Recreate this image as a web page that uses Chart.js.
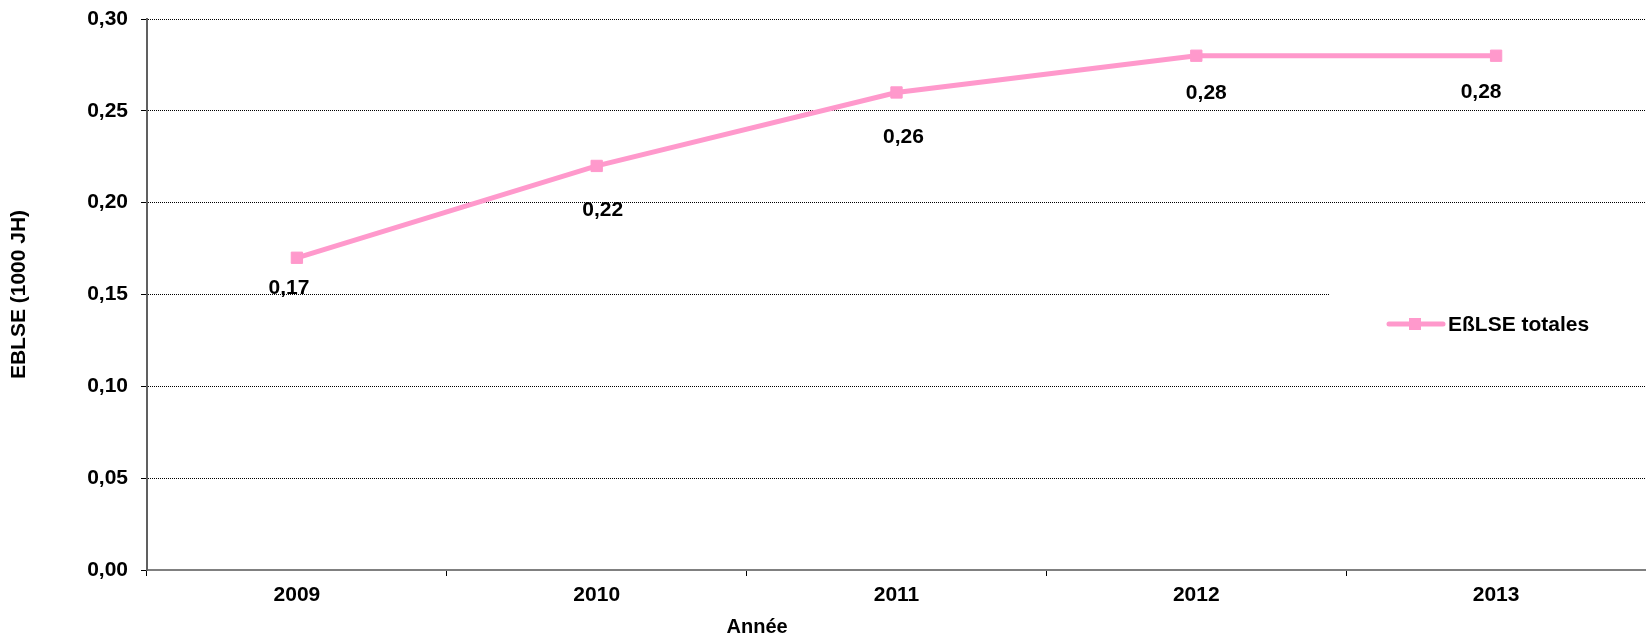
<!DOCTYPE html>
<html>
<head>
<meta charset="utf-8">
<script src="https://cdn.jsdelivr.net/npm/chart.js@4.4.0/dist/chart.umd.min.js"></script>
<style>
  html, body { margin: 0; padding: 0; background: #ffffff; overflow: hidden; }
  canvas { display: block; }
</style>
</head>
<body>
<canvas id="c" width="1646" height="637"></canvas>
<script>
// ---- data ----
const categories = ['2009', '2010', '2011', '2012', '2013'];
const seriesName = 'EßLSE totales';
const eblseValues = [0.17, 0.22, 0.26, 0.28, 0.28];
const yTickValues = [0, 0.05, 0.10, 0.15, 0.20, 0.25, 0.30];
const xTitle = 'Année';
const yTitle = 'EBLSE (1000 JH)';

// ---- styles ----
const FONT_FAMILY = '"Liberation Sans", Arial, Helvetica, sans-serif';
const PINK = '#FF99CC';
const fmt = v => v.toFixed(2).replace('.', ',');

Chart.defaults.font.family = FONT_FAMILY;
Chart.defaults.font.size = 21;
Chart.defaults.font.weight = 'bold';
Chart.defaults.color = '#000000';

// value labels under each point (offsets are label placement styling)
const valueLabels = {
  id: 'valueLabels',
  afterDatasetsDraw(chart, args, opts) {
    const meta = chart.getDatasetMeta(0);
    const ctx = chart.ctx;
    ctx.save();
    ctx.font = 'bold 21px ' + FONT_FAMILY;
    ctx.fillStyle = '#000000';
    ctx.textAlign = 'center';
    ctx.textBaseline = 'alphabetic';
    meta.data.forEach((pt, i) => {
      const off = opts.offsets[i] || [0, 40];
      ctx.fillText(fmt(chart.data.datasets[0].data[i]), pt.x + off[0], pt.y + off[1]);
    });
    ctx.restore();
  }
};

// x-axis title drawn where the original places it
const xAxisTitle = {
  id: 'xAxisTitle',
  afterDraw(chart, args, opts) {
    const ctx = chart.ctx;
    const a = chart.chartArea;
    ctx.save();
    ctx.font = 'bold 20px ' + FONT_FAMILY;
    ctx.fillStyle = '#000000';
    ctx.textAlign = 'center';
    ctx.textBaseline = 'alphabetic';
    ctx.fillText(opts.text, a.left + (a.right - a.left) * opts.frac, a.bottom + opts.dy);
    ctx.restore();
  }
};

// legend box overlapping the plot area on the right
const boxLegend = {
  id: 'boxLegend',
  afterDatasetsDraw(chart, args, opts) {
    const ctx = chart.ctx;
    const a = chart.chartArea;
    const ds = chart.data.datasets[0];
    const bx = a.right - 317, by = 282, bw = 317, bh = 84;
    const cy = by + 42;
    ctx.save();
    ctx.fillStyle = '#ffffff';
    ctx.fillRect(bx, by, bw, bh);
    // line sample
    ctx.strokeStyle = ds.borderColor;
    ctx.lineWidth = 5;
    ctx.lineCap = 'round';
    ctx.beginPath();
    ctx.moveTo(bx + 60, cy);
    ctx.lineTo(bx + 114, cy);
    ctx.stroke();
    // marker
    ctx.fillStyle = ds.borderColor;
    ctx.fillRect(bx + 86 - 6, cy - 6, 12, 12);
    // text
    ctx.fillStyle = '#000000';
    ctx.font = 'bold 21px ' + FONT_FAMILY;
    ctx.textAlign = 'left';
    ctx.textBaseline = 'middle';
    ctx.fillText(ds.label, bx + 119, cy + 1);
    ctx.restore();
  }
};

new Chart(document.getElementById('c'), {
  type: 'line',
  data: {
    labels: categories,
    datasets: [{
      label: seriesName,
      data: eblseValues,
      borderColor: PINK,
      backgroundColor: PINK,
      borderWidth: 5,
      pointStyle: 'rect',
      pointRadius: 8,
      pointHoverRadius: 8,
      pointBorderWidth: 1,
      pointBackgroundColor: PINK,
      pointBorderColor: PINK,
      tension: 0,
      fill: false,
      clip: false
    }]
  },
  options: {
    responsive: false,
    animation: false,
    devicePixelRatio: 1,
    layout: { autoPadding: false, padding: { top: 19, right: 0, bottom: 0, left: 0 } },
    plugins: {
      legend: { display: false },
      tooltip: { enabled: false },
      valueLabels: { offsets: [[-8, 36], [6, 50], [7, 51], [10, 43], [-15, 42]] },
      xAxisTitle: { text: xTitle, frac: 0.407, dy: 63 }
    },
    scales: {
      x: {
        type: 'category',
        offset: true,
        afterFit(scale) { scale.height = 67; scale.paddingLeft = 0; scale.paddingRight = 0; },
        grid: {
          offset: true,
          drawOnChartArea: false,
          drawTicks: true,
          tickLength: 6,
          tickColor: '#000000',
          tickWidth: 1
        },
        border: { display: true, color: '#808080', width: 2 },
        ticks: {
          padding: 7,
          maxRotation: 0,
          autoSkip: false,
          font: { size: 21, weight: 'bold' },
          color: '#000000'
        },
        title: { display: false }
      },
      y: {
        min: 0,
        max: 0.3,
        afterFit(scale) { scale.width = 147; scale.paddingTop = 0; scale.paddingBottom = 0; },
        afterBuildTicks(scale) { scale.ticks = yTickValues.map(v => ({ value: v })); },
        grid: {
          drawOnChartArea: true,
          color: '#000000',
          lineWidth: 1,
          drawTicks: true,
          tickLength: 6,
          tickColor: '#000000',
          tickWidth: 1,
          tickBorderDash: []
        },
        border: { display: true, color: '#606060', width: 2, dash: [1, 1] },
        ticks: {
          padding: 13,
          font: { size: 21, weight: 'bold' },
          color: '#000000',
          callback: v => fmt(v)
        },
        title: {
          display: true,
          text: yTitle,
          font: { size: 21, weight: 'bold' },
          color: '#000000',
          padding: { top: 7, bottom: 0 }
        }
      }
    }
  },
  plugins: [valueLabels, boxLegend, xAxisTitle]
});
</script>
</body>
</html>
